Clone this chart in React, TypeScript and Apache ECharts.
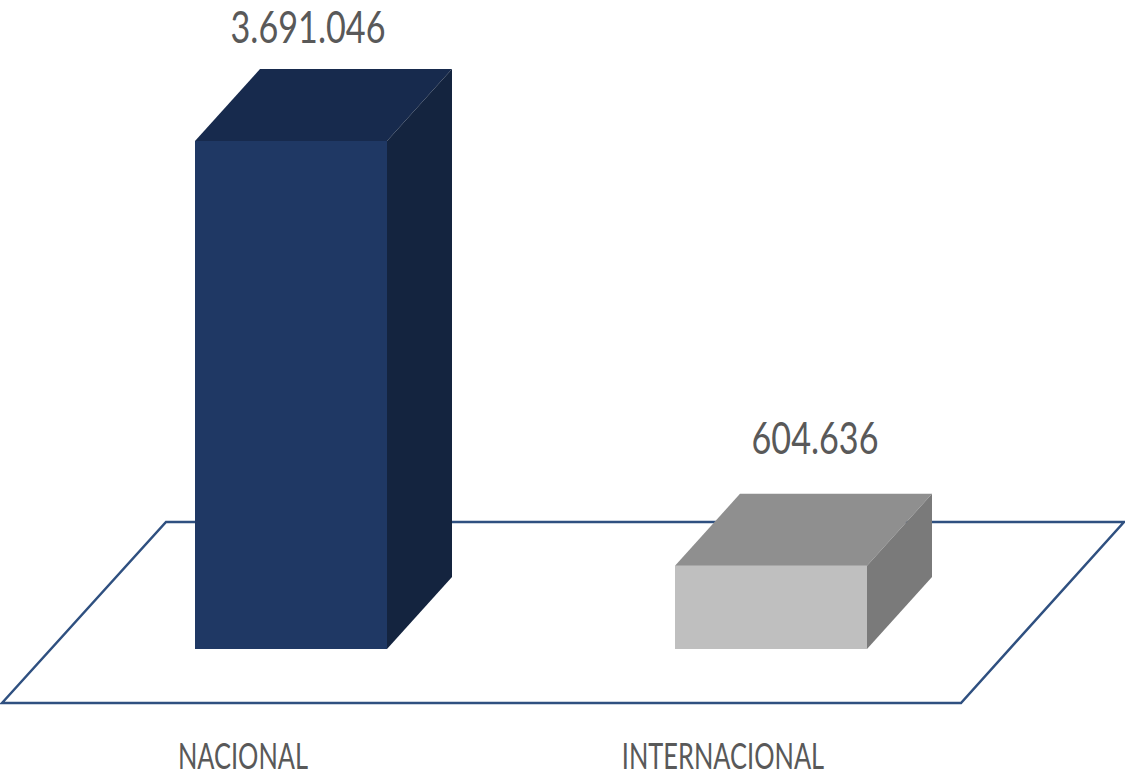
import React, { useEffect, useRef } from "react";
import * as echarts from "echarts";

const categories = ["NACIONAL", "INTERNACIONAL"];
const values = [3691046, 604636];

const W = 1125;
const H = 778;
const FONT = "Lato, 'Open Sans', sans-serif";
const TEXT_COLOR = "#595959";
const PALETTES = [
  { front: "#1f3864", top: "#172a4d", side: "#14243f" },
  { front: "#bfbfbf", top: "#8f8f8f", side: "#7a7a7a" },
];
const FLOOR = [[2, 703], [166, 522], [1124, 522], [961, 703]];
const DX = 65;
const DY = 72;
const BAR_W = 192;
const SHIFT = 48;
const VALUE_LABEL_OFFSETS = [[17, -115], [44, -129]];

const fmt = (v: number) => String(v).replace(/\B(?=(\d{3})+(?!\d))/g, ".");

function stretchedText(text: string, x: number, y: number, size: number, scaleX: number, scaleY: number) {
  return {
    type: "text",
    x,
    y,
    scaleX,
    scaleY,
    style: {
      text,
      fontFamily: FONT,
      fontSize: size,
      lineHeight: size * 0.9,
      fill: TEXT_COLOR,
      align: "center",
      verticalAlign: "middle",
    },
  };
}

export default function App() {
  const ref = useRef<HTMLDivElement>(null);
  useEffect(() => {
    const chart = echarts.init(ref.current!, undefined, { renderer: "svg" });
    chart.setOption({
      animation: false,
      backgroundColor: "#ffffff",
      grid: { left: 3, width: 960, top: 98.5, bottom: H - 649, containLabel: false },
      xAxis: {
        type: "category",
        data: categories,
        axisLine: { show: false },
        axisTick: { show: false },
        axisLabel: { show: false },
      },
      yAxis: { type: "value", min: 0, max: 4000000, show: false },
      graphic: {
        elements: [
          {
            type: "polygon",
            z: 0,
            shape: { points: FLOOR },
            style: { fill: "#ffffff", stroke: "#2f5080", lineWidth: 2.5 },
          },
        ],
      },
      series: [
        {
          type: "custom",
          z: 3,
          coordinateSystem: "cartesian2d",
          clip: false,
          data: values.map((v, i) => [i, v]),
          encode: { x: 0, y: 1 },
          renderItem: (params: any, api: any) => {
            const i = api.value(0);
            const top = api.coord([i, api.value(1)]);
            const base = api.coord([i, 0]);
            const cx = top[0];
            const x0 = cx + SHIFT - BAR_W / 2;
            const x1 = x0 + BAR_W;
            const yT = top[1];
            const yB = base[1];
            const p = PALETTES[i];
            const off = VALUE_LABEL_OFFSETS[i];
            return {
              type: "group",
              children: [
                { type: "rect", shape: { x: x0, y: yT, width: BAR_W, height: yB - yT }, style: { fill: p.front } },
                { type: "polygon", shape: { points: [[x0, yT], [x0 + DX, yT - DY], [x1 + DX, yT - DY], [x1, yT]] }, style: { fill: p.top } },
                { type: "polygon", shape: { points: [[x1, yT], [x1 + DX, yT - DY], [x1 + DX, yB - DY], [x1, yB]] }, style: { fill: p.side } },
                stretchedText(fmt(api.value(1)), cx + SHIFT + off[0], yT + off[1], 36, 0.95, 1.25),
                stretchedText(categories[i], cx, 755, 31, 0.82, 1.2),
              ],
            };
          },
        },
      ],
    });
    return () => chart.dispose();
  }, []);
  return <div ref={ref} style={{ position: "absolute", left: 0, top: 0, width: W, height: H }} />;
}
